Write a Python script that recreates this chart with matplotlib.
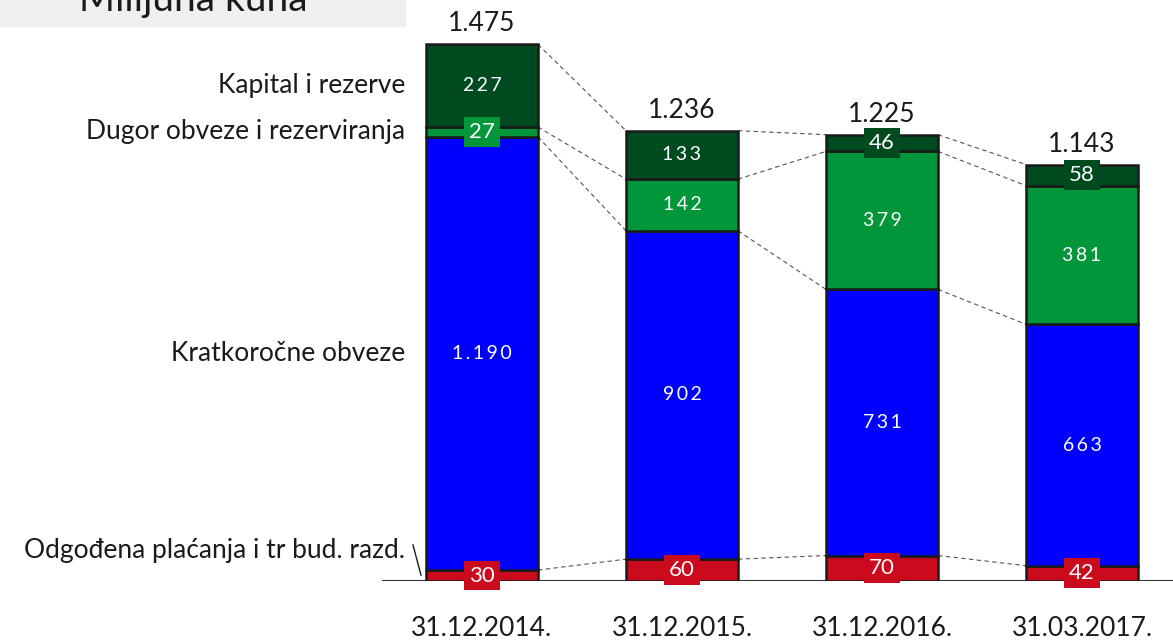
import matplotlib
matplotlib.use('Agg')
import matplotlib.pyplot as plt
import numpy as np

plt.rcParams['font.family'] = ['Lato', 'DejaVu Sans']

# %%
dates = ['31.12.2014.', '31.12.2015.', '31.12.2016.', '31.03.2017.']
odgodena = [30, 60, 70, 42]
kratkorocne = [1190, 902, 731, 663]
dugor = [27, 142, 379, 381]
kapital = [227, 133, 46, 58]
totals = ['1.475', '1.236', '1.225', '1.143']

series_names = ['Odgođena plaćanja i tr bud. razd.', 'Kratkoročne obveze',
                'Dugor obveze i rezerviranja', 'Kapital i rezerve']
colors = ['#cc0a1e', '#0000ff', '#009639', '#004a20']

# %%
fig = plt.figure(figsize=(11.73, 6.42), dpi=100)
W, H = 1173, 642
ax = fig.add_axes([382 / W, 61 / H, (W - 382) / W, (H - 61) / H])
ax.set_xlim(-0.5, 3.455)
ax.set_ylim(0, 1596)
ax.axis('off')

x = np.arange(len(dates))
width = 0.56
series = [odgodena, kratkorocne, dugor, kapital]
bottom = np.zeros(len(dates))
tops = []
for vals, col in zip(series, colors):
    vals = np.array(vals, dtype=float)
    ax.bar(x, vals, width, bottom=bottom, color=col, edgecolor='#1a1a1a', linewidth=1.8, zorder=3)
    for i, v in enumerate(vals):
        yc = bottom[i] + v / 2
        if v < 100:
            ax.text(x[i], yc, f'{int(v)}', ha='center', va='center', color='white', fontsize=16,
                    zorder=5, bbox=dict(boxstyle='square,pad=0.22', fc=col, ec='none'))
        else:
            s = f'{int(v):,}'.replace(',', '.')
            ax.text(x[i], yc, '\u2009'.join(s), ha='center', va='center', color='white',
                    fontsize=14, zorder=5)
    bottom = bottom + vals
    tops.append(bottom.copy())

# dashed connectors between bars
for t in tops:
    for i in range(len(dates) - 1):
        ax.plot([x[i] + width / 2, x[i + 1] - width / 2], [t[i], t[i + 1]],
                ls=(0, (4, 3)), color='#555555', lw=0.8, zorder=2)

# totals
for i, lab in enumerate(totals):
    ax.text(x[i], tops[-1][i] + 22, lab, ha='center', va='bottom', fontsize=19, color='#1a1a1a')

# dates
for i, d in enumerate(dates):
    ax.text(x[i], -130, d, ha='center', va='center', fontsize=19, color='#1a1a1a', clip_on=False)

ax.axhline(0, color='#333333', lw=1.5, zorder=1)

# series labels on the left
label_x = -0.385
seg_mid = [85, kratkorocne[0] / 2 + odgodena[0],
           odgodena[0] + kratkorocne[0] + dugor[0] / 2,
           odgodena[0] + kratkorocne[0] + dugor[0] + kapital[0] / 2]
for name, y in zip(series_names, seg_mid):
    ax.text(label_x, y, name, ha='right', va='center', fontsize=19, color='#1a1a1a', clip_on=False)
ax.plot([-0.345, -0.305], [99, 16], color='#1a1a1a', lw=1, clip_on=False)

# title box
fig.patches.append(plt.Rectangle((0, 1 - 26 / H), 405 / W, 26 / H, transform=fig.transFigure,
                                 color='#f0f0f0', zorder=0))
fig.text(193 / W, 1 - 11 / H, 'Milijuna kuna', ha='center', va='baseline', fontsize=28, color='#1a1a1a')

plt.savefig('out.png', dpi=100)
